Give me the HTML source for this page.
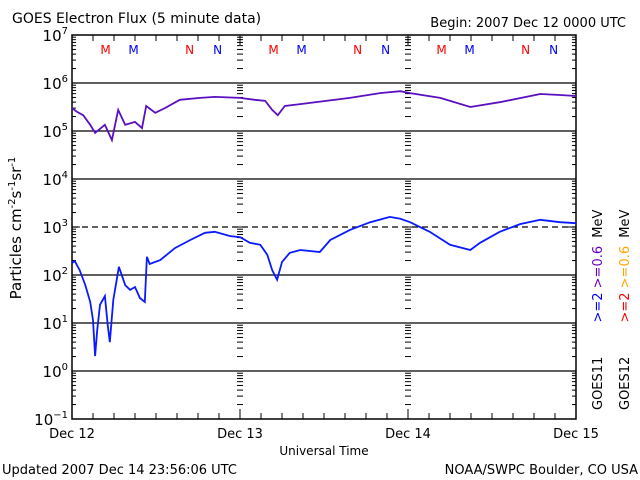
<!DOCTYPE html>
<html><head><meta charset="utf-8"><style>
body{margin:0;background:#fff}
svg{display:block;font-family:"DejaVu Sans","Liberation Sans",sans-serif}
</style></head><body>
<svg id="chart" width="640" height="480" viewBox="0 0 640 480">
<text x="12" y="23" font-size="14">GOES Electron Flux (5 minute data)</text>
<text x="626" y="27" font-size="13" text-anchor="end">Begin: 2007 Dec 12 0000 UTC</text>
<text x="324" y="455" font-size="12" text-anchor="middle">Universal Time</text>
<text x="2" y="474" font-size="13">Updated 2007 Dec 14 23:56:06 UTC</text>
<text x="638" y="474" font-size="13" text-anchor="end">NOAA/SWPC Boulder, CO USA</text>
<text transform="translate(21,228) rotate(-90)" font-size="15" text-anchor="middle">Particles cm<tspan dy="-6" font-size="10">-2</tspan><tspan dy="6">s</tspan><tspan dy="-6" font-size="10">-1</tspan><tspan dy="6">sr</tspan><tspan dy="-6" font-size="10">-1</tspan></text>
<text transform="translate(602,410) rotate(-90)" font-size="13">GOES11 <tspan fill="#0000ff" dx="30">&gt;=2</tspan> <tspan fill="#6a00c8">&gt;=0.6</tspan> <tspan dx="4">MeV</tspan></text>
<text transform="translate(629,410) rotate(-90)" font-size="13">GOES12 <tspan fill="#ff0000" dx="30">&gt;=2</tspan> <tspan fill="#ffa500">&gt;=0.6</tspan> <tspan dx="4">MeV</tspan></text>
<g id="grid"></g><g id="axes"></g><g id="series"></g><g id="marks"></g>
</svg>
<script>
const dayLabels=["Dec 12","Dec 13","Dec 14","Dec 15"];
const yTickExp=[7,6,5,4,3,2,1,0,-1];
const purpleHours=[0,0.7,1.6,2.6,3.3,4.7,5.7,6.6,7.6,9,10,10.6,11.9,13.3,15.4,18.3,20.4,24,26.1,27.6,28.6,29.4,30.4,32.6,39.7,44,46.9,48.3,52.6,56.9,61.1,66.9,69.7,72];
const purpleLog=[5.48,5.40,5.33,5.13,4.96,5.13,4.81,5.44,5.13,5.19,5.06,5.52,5.38,5.48,5.65,5.69,5.71,5.69,5.65,5.63,5.44,5.33,5.52,5.56,5.69,5.79,5.83,5.79,5.69,5.50,5.60,5.77,5.75,5.73];
const blueHours=[0,0.4,1.1,1.9,2.6,3,3.3,3.6,4,4.7,5.1,5.4,5.9,6.7,7.6,8.3,9,9.7,10.4,10.7,11.1,12.6,14.7,16.9,19,20.4,22.6,24,25.4,26.9,27.9,28.6,29.3,30,31.1,32.6,35.4,36.9,39.7,42.6,45.4,46.9,48.3,51.1,54,56.9,58.3,61.1,64,66.9,69.7,72];
const blueLog=[2.25,2.29,2.10,1.79,1.44,1.06,0.31,0.85,1.38,1.56,0.96,0.60,1.48,2.17,1.79,1.69,1.75,1.52,1.44,2.38,2.23,2.31,2.56,2.73,2.88,2.90,2.81,2.79,2.67,2.63,2.42,2.10,1.90,2.27,2.46,2.52,2.48,2.73,2.94,3.10,3.21,3.17,3.10,2.90,2.63,2.52,2.67,2.90,3.06,3.15,3.10,3.08];
const markerLabels=["M","M","N","N"];
const markerHours=[4.8,8.8,16.8,20.8];
const markerColors=["#ff0000","#0000ff","#ff0000","#0000ff"];

const L=72,R=576,T=35,B=419;
const X=h=>L+(R-L)*h/72;
const Y=e=>T+(B-T)*(7-e)/8;
const NS="http://www.w3.org/2000/svg";
function mk(tag,parent,attrs){const el=document.createElementNS(NS,tag);for(const k in attrs)el.setAttribute(k,attrs[k]);document.getElementById(parent).appendChild(el);return el;}

yTickExp.forEach(e=>{
  const y=Y(e);
  if(e<7&&e>-1){const g=mk('line','grid',{x1:L,x2:R,y1:y,y2:y,stroke:'#000','stroke-width':1.3,'stroke-dasharray':e===3?'6,4':'none'});
  
  }
  const t=mk('text','axes',{x:L-4,y:y+6,'font-size':15,'text-anchor':'end'});
  
  
  t.textContent='10';
  const s=document.createElementNS(NS,'tspan');s.setAttribute('dy','-7');s.setAttribute('font-size','10');s.textContent=String(e).replace('-','\u2212');t.appendChild(s);
  if(e>-1){for(let m=2;m<10;m++){const yy=Y(e-1+Math.log10(m));
    [L,R].forEach(xx=>mk('line','axes',{x1:xx,x2:xx+(xx===L?4:-4),y1:yy,y2:yy,stroke:'#000'}));
    [240,408].forEach(xx=>mk('line','axes',{x1:xx-3,x2:xx+3,y1:yy,y2:yy,stroke:'#000'}));}
    [L,R].forEach(xx=>mk('line','axes',{x1:xx,x2:xx+(xx===L?8:-8),y1:Y(e),y2:Y(e),stroke:'#000'}));
    [240,408].forEach(xx=>mk('line','axes',{x1:xx-5,x2:xx+5,y1:Y(e),y2:Y(e),stroke:'#000'}));}
});
const fr=mk('rect','axes',{x:L,y:T,width:R-L,height:B-T,fill:'none',stroke:'#000','stroke-width':1.5});


for(let h=0;h<=72;h+=3){const x=X(h),len=h%24===0?10:6;
  mk('line','axes',{x1:x,x2:x,y1:B,y2:B-len,stroke:'#000'});
  mk('line','axes',{x1:x,x2:x,y1:T,y2:T+len,stroke:'#000'});}
dayLabels.forEach((d,i)=>{const t=mk('text','axes',{x:X(i*24),y:438,'font-size':13,'text-anchor':'middle'});
  
  
  t.textContent=d;});
function series(hs,vs,color,name){
  const pts=hs.map((h,i)=>X(h).toFixed(1)+','+Y(vs[i]).toFixed(1)).join(' ');
  const p=mk('polyline','series',{points:pts,fill:'none',stroke:color,'stroke-width':1.8,'stroke-linejoin':'miter'});
  
  
}
series(purpleHours,purpleLog,'#5a10c0','goes11-06mev-line');
series(blueHours,blueLog,'#0a1aff','goes11-2mev-line');
for(let d=0;d<3;d++)markerLabels.forEach((m,i)=>{
  const t=mk('text','marks',{x:X(d*24+markerHours[i]),y:54,'font-size':12,'text-anchor':'middle',fill:markerColors[i]});
  
  
  t.textContent=m;});
</script>
</body></html>
